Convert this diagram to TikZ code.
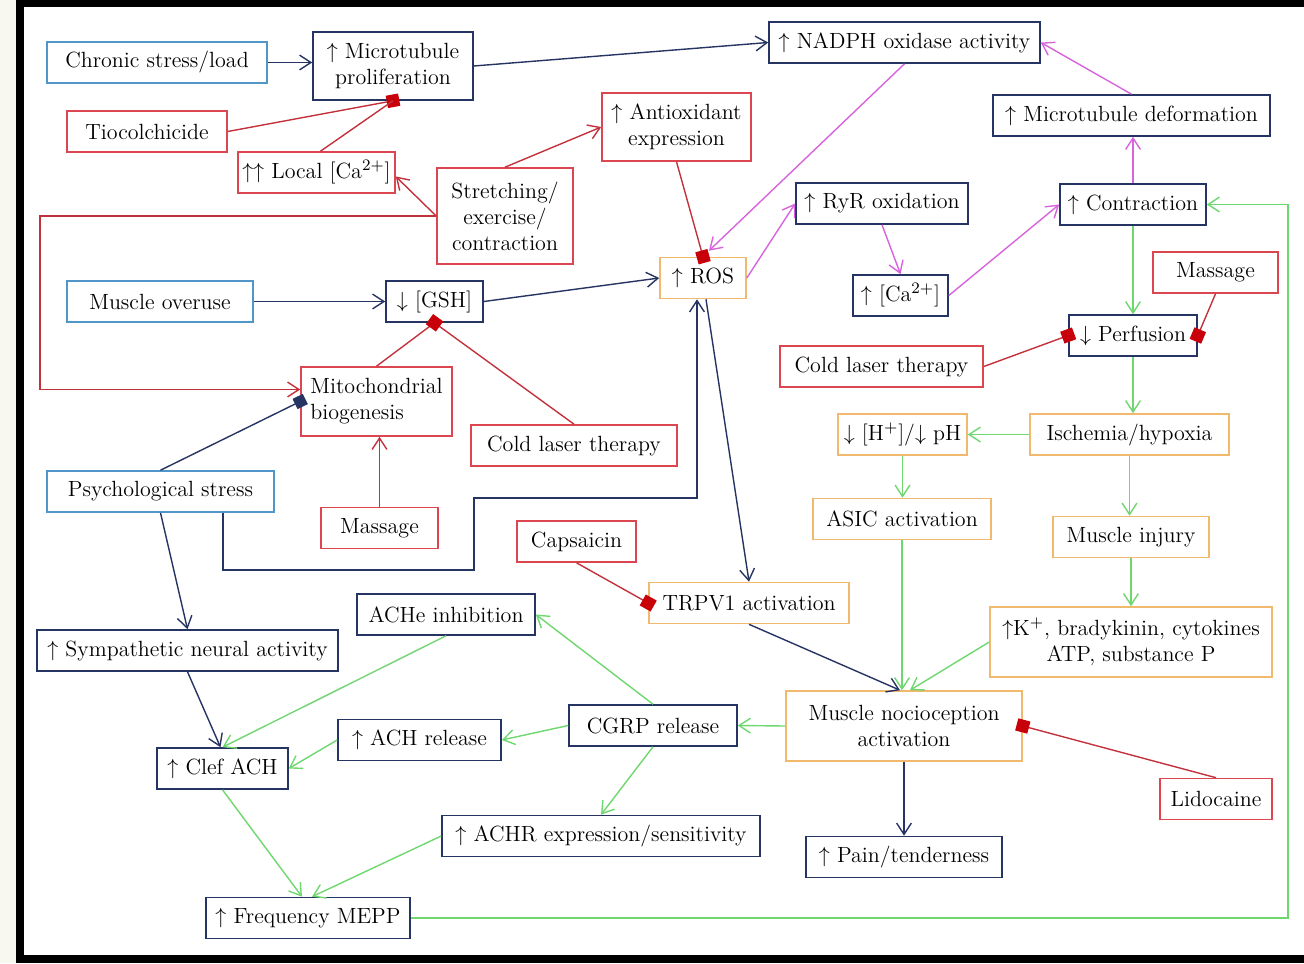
\documentclass[tikz,border=0pt]{standalone}
\usepackage{amsmath,amssymb}
\usepackage{xcolor}
\usepackage{tikz}
\usetikzlibrary{arrows.meta, positioning}
\definecolor{navy}{RGB}{38,52,99}
\definecolor{skyb}{RGB}{80,150,200}
\definecolor{boxred}{RGB}{220,70,80}
\definecolor{linered}{RGB}{195,50,60}
\definecolor{inhred}{RGB}{200,0,10}
\definecolor{boxora}{RGB}{240,185,110}
\definecolor{magen}{RGB}{215,100,220}
\definecolor{grn}{RGB}{110,215,110}
\definecolor{cream}{RGB}{248,247,240}
\tikzset{
  box/.style={rectangle, draw, line width=0.8pt, fill=white, align=center,
    minimum height=20.5pt, inner xsep=2pt, inner ysep=1pt,
    font=\fontsize{11}{13}\selectfont},
  src/.style={box, draw=skyb},
  navybox/.style={box, draw=navy},
  redbox/.style={box, draw=boxred},
  orbox/.style={box, draw=boxora},
  tip/.style={-{Straight Barb[length=2mm,width=2.6mm]}, line width=0.7pt},
  navyarr/.style={tip, navy},
  redarr/.style={tip, linered},
  magarr/.style={tip, magen},
  grnarr/.style={tip, grn},
  redln/.style={linered, line width=0.7pt},
  redinh/.style={-{Square[length=2.2mm,width=2.2mm,color=inhred]}, linered,
    line width=0.7pt, shorten >=-1.1mm},
  navyinh/.style={-{Square[length=2mm,width=2mm,color=navy]}, navy,
    line width=0.7pt, shorten >=-1mm}
}
\begin{document}
\begin{tikzpicture}[x=0.5pt, y=-0.5pt]
  % frame
  \useasboundingbox (0,0) rectangle (1304,963);
  \fill[cream] (0,0) rectangle (16,963);
  \fill[black] (16,0) rectangle (24,963);
  \fill[black] (16,0) rectangle (1304,7);
  \fill[black] (16,955) rectangle (1304,963);

  % top rows
  \node[src, minimum width=110pt] (chronic) at (157,62.5) {Chronic stress/load};
  \node[navybox, minimum width=80pt, minimum height=34pt] (mtprol) at (393,66) {$\uparrow$ Microtubule\\proliferation};
  \node[redbox, minimum width=80pt] (tiocol) at (147,131.5) {Tiocolchicide};
  \node[redbox, minimum width=78.5pt] (localca) at (316.5,172.5) {$\uparrow\uparrow$ Local [Ca$^{2+}$]};
  \node[redbox, minimum width=68pt, minimum height=48pt] (stretch) at (505,216) {Stretching/\\exercise/\\contraction};
  \node[redbox, minimum width=74.5pt, minimum height=34pt] (antiox) at (676.5,127) {$\uparrow$ Antioxidant\\expression};
  \node[navybox, minimum width=135.5pt] (nadph) at (904.5,42.5) {$\uparrow$ NADPH oxidase activity};
  \node[navybox, minimum width=138.5pt] (mtdef) at (1131.5,115.5) {$\uparrow$ Microtubule deformation};
  \node[navybox, minimum width=86pt] (ryr) at (882,203.5) {$\uparrow$ RyR oxidation};
  \node[navybox, minimum width=73pt] (contr) at (1133,204.5) {$\uparrow$ Contraction};
  \node[orbox, minimum width=43pt] (ros) at (703,278) {$\uparrow$ ROS};
  \node[navybox, minimum width=47.5pt] (ca) at (900.5,295.5) {$\uparrow$ [Ca$^{2+}$]};
  \node[redbox, minimum width=62.5pt] (massA) at (1215.5,272.5) {Massage};
  \node[navybox, minimum width=64pt] (perf) at (1133,335.5) {$\downarrow$ Perfusion};
  \node[redbox, minimum width=101.5pt] (laserA) at (881.5,366.5) {Cold laser therapy};

  % middle
  \node[src, minimum width=93pt] (overuse) at (160,301.5) {Muscle overuse};
  \node[navybox, minimum width=48.5pt] (gsh) at (434.5,301.5) {$\downarrow$ [GSH]};
  \node[redbox, minimum width=75.5pt, minimum height=34.5pt, align=left] (mito) at (376.5,401.5) {Mitochondrial\\biogenesis};
  \node[redbox, minimum width=103pt] (laserB) at (574,445.5) {Cold laser therapy};
  \node[src, minimum width=113.5pt] (psych) at (160.5,491.5) {Psychological stress};
  \node[redbox, minimum width=58.5pt] (massB) at (379.5,528) {Massage};
  \node[orbox, minimum width=64.5pt] (ph) at (902.5,434.5) {$\downarrow$ [H$^+$]/$\downarrow$ pH};
  \node[orbox, minimum width=99.5pt] (isch) at (1129.5,434.5) {Ischemia/hypoxia};
  \node[orbox, minimum width=89pt] (asic) at (902,519) {ASIC activation};
  \node[orbox, minimum width=78pt] (injury) at (1131,537) {Muscle injury};
  \node[redbox, minimum width=59.5pt] (caps) at (576.5,541.5) {Capsaicin};
  \node[orbox, minimum width=100pt] (trpv) at (749,603) {TRPV1 activation};
  \node[orbox, minimum width=141pt, minimum height=35pt] (kplus) at (1131,642) {$\uparrow$K$^+$, bradykinin, cytokines\\ATP, substance P};

  % bottom
  \node[navybox, minimum width=89pt] (ache) at (446,614.5) {ACHe inhibition};
  \node[navybox, minimum width=150.5pt] (symp) at (187.5,650.5) {$\uparrow$ Sympathetic neural activity};
  \node[orbox, minimum width=118pt, minimum height=35pt] (noci) at (904,726) {Muscle nocioception\\activation};
  \node[navybox, minimum width=84pt] (cgrp) at (653,725.5) {CGRP release};
  \node[navybox, minimum width=81.5pt] (achrel) at (419.5,740) {$\uparrow$ ACH release};
  \node[navybox, minimum width=65.5pt] (clef) at (222.5,768.5) {$\uparrow$ Clef ACH};
  \node[redbox, minimum width=56pt] (lido) at (1216,799) {Lidocaine};
  \node[navybox, minimum width=159pt] (achr) at (601,836) {$\uparrow$ ACHR expression/sensitivity};
  \node[navybox, minimum width=98pt] (pain) at (904,857) {$\uparrow$ Pain/tenderness};
  \node[navybox, minimum width=102pt] (mepp) at (308,918) {$\uparrow$ Frequency MEPP};

  \coordinate (redturn) at (40,216);
  \coordinate (psyA) at (223,570);
  \coordinate (psyB) at (474,498);
  \coordinate (grnturn) at (1288,918);

  % upper left
  \draw[navyarr] (chronic.east) -- (chronic.east -| mtprol.west);
  \draw[navyarr] (mtprol.east) -- (nadph.west);
  \draw[redinh] (tiocol.east) -- (mtprol.south);
  \draw[redln] ([xshift=2pt]localca.north) -- (mtprol.south);
  \draw[redarr] (stretch.west) -- ([yshift=-2pt]localca.east);
  \draw[redarr] (stretch.north) -- (antiox.west);
  \draw[redarr] (stretch.west) -- (stretch.west -| redturn) |- ([yshift=6pt]mito.west);
  \draw[redinh] (antiox.south) -- (ros.north);

  % ROS loop
  \draw[magarr] (nadph.south) -- ([xshift=3pt,yshift=3pt]ros.north);
  \draw[magarr] (ros.east) -- (ryr.west);
  \draw[magarr] (ryr.south) -- (ca.north);
  \draw[magarr] (ca.east) -- (contr.west);
  \draw[magarr] (contr.north) -- (contr.north |- mtdef.south);
  \draw[magarr] (mtdef.north) -- (nadph.east);

  % right column
  \draw[grnarr] (contr.south) -- (perf.north);
  \draw[redinh] (massA.south) -- (perf.east);
  \draw[redinh] (laserA.east) -- (perf.west);
  \draw[grnarr] (perf.south) -- (perf.south |- isch.north);
  \draw[grnarr] (isch.west) -- (ph.east);
  \draw[grnarr] (ph.south) -- (ph.south |- asic.north);
  \draw[grnarr] (isch.south) -- (isch.south |- injury.north);
  \draw[grnarr] (injury.south) -- (injury.south |- kplus.north);
  \draw[grnarr] (asic.south) -- (asic.south |- noci.north);
  \draw[grnarr] (kplus.west) -- ([xshift=3pt]noci.north);
  \draw[navyarr] (trpv.south) -- ([xshift=-2pt]noci.north);
  \draw[navyarr] (noci.south) -- (noci.south |- pain.north);
  \draw[redinh] (lido.north) -- (noci.east);

  % middle left
  \draw[navyarr] (overuse.east) -- (overuse.east -| gsh.west);
  \draw[navyarr] (gsh.east) -- (ros.west);
  \draw[redln] (mito.north) -- (gsh.south);
  \draw[redinh] (laserB.north) -- (gsh.south);
  \draw[redarr] (massB.north) -- (massB.north |- mito.south);
  \draw[navyinh] (psych.north) -- (mito.west);
  \draw[navyarr] (psych.south -| psyA) -- (psyA) -| (psyB) -| ([xshift=-3pt]ros.south);
  \draw[navyarr] ([xshift=1.5pt]ros.south) -- (trpv.north);
  \draw[redinh] (caps.south) -- (trpv.west);
  \draw[navyarr] (psych.south) -- (symp.north);

  % ACH part
  \draw[grnarr] (noci.west) -- (cgrp.east);
  \draw[grnarr] (cgrp.west) -- (achrel.east);
  \draw[grnarr] (cgrp.north) -- (ache.east);
  \draw[grnarr] (cgrp.south) -- (achr.north);
  \draw[grnarr] (achrel.west) -- (clef.east);
  \draw[grnarr] (ache.south) -- (clef.north);
  \draw[navyarr] (symp.south) -- ([xshift=-1pt]clef.north);
  \draw[grnarr] (clef.south) -- ([xshift=-3pt]mepp.north);
  \draw[grnarr] (achr.west) -- ([xshift=2pt]mepp.north);
  \draw[grnarr] (mepp.east) -- (mepp.east -| grnturn) |- (contr.east);
\end{tikzpicture}
\end{document}
